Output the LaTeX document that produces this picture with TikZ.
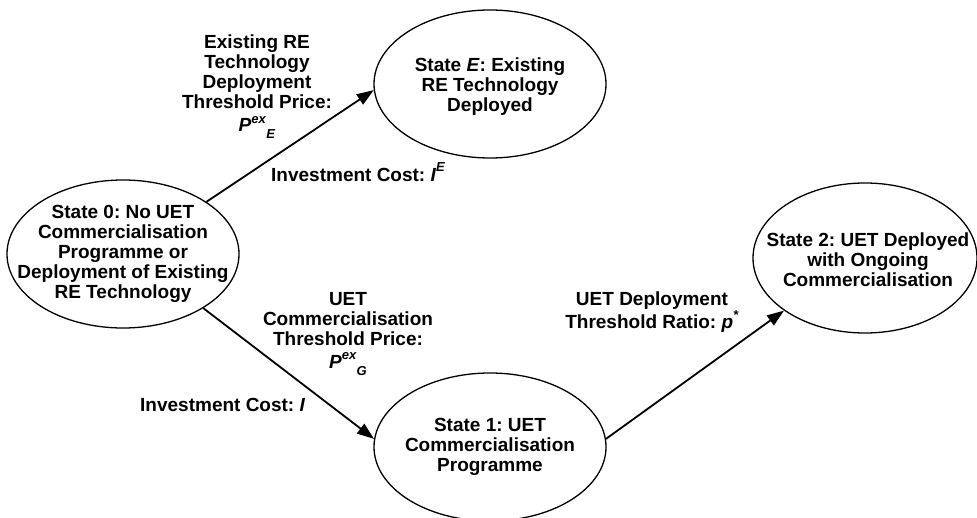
\documentclass[tikz,border=0pt]{standalone}
\usepackage{fontspec}
\setmainfont{Liberation Sans}
\usetikzlibrary{shapes.geometric,arrows.meta}
\frenchspacing
% small type for indices
\newcommand\idxfont{\fontsize{13}{14}\selectfont}
% symbol with a raised index followed by a lowered one
\newcommand\supsubsym[3]{\textit{#1}\raisebox{0.45em}{\idxfont\textit{#2}}\raisebox{-0.37em}{\idxfont\textit{#3}}}
% symbol with a raised index only
\newcommand\supsym[2]{\textit{#1}\raisebox{0.5em}{\idxfont\textit{#2}}}

\begin{document}
\begin{tikzpicture}[x=1pt,y=-1pt,
  stateell/.style={draw, ellipse, line width=1.3pt, inner sep=0pt,
                   minimum width=232pt, minimum height=148pt},
  statetext/.style={align=center, font=\fontsize{19}{20}\selectfont\bfseries, inner sep=0pt},
  lbl/.style={align=center, font=\fontsize{19}{20}\selectfont\bfseries, inner sep=0pt},
  flow/.style={line width=1.8pt, -{Triangle[length=17pt,width=12pt]}}]
\useasboundingbox (0,0) rectangle (977,518);

% states
\node[stateell] (s0) at (123,254) {};
\node[stateell] (sE) at (490,84) {};
\node[stateell] (s1) at (490,447) {};
\node[stateell, minimum width=224pt, minimum height=150pt] (s2) at (865,258) {};

\node[statetext] (s0t) at (s0) {State 0: No UET\\Commercialisation\\Programme or\\Deployment of Existing\\RE Technology};
\node[statetext] (sEt) at ([yshift=-3pt]sE) {State \textit{E}: Existing\\RE Technology\\Deployed};
\node[statetext] (s1t) at (s1) {State 1: UET\\Commercialisation\\Programme};
\node[statetext] (s2t) at ([xshift=3pt,yshift=-2pt]s2) {State 2: UET Deployed\\with Ongoing\\Commercialisation};

% transitions
\draw[flow] (s0.32.4) -- (sE.183.9);
\draw[flow] (s0.326.6) -- (s1.176.6);
\draw[flow] (s1.4.9) -- (s2.213);

% transition labels
\node[lbl] (lE) at (257,87) {Existing RE\\Technology\\Deployment\\Threshold Price:\\[3pt]\supsubsym{P}{ex}{E}};
\node[lbl, anchor=west] (cE) at (271,172) {Investment Cost: \supsym{I}{E}};
\node[lbl] (lG) at (348,334) {UET\\Commercialisation\\Threshold Price:\\[3pt]\supsubsym{P}{ex}{G}};
\node[lbl, anchor=west] (cG) at (140,405) {Investment Cost: \textit{I}};
\node[lbl] (l2) at (652,312) {UET Deployment\\Threshold Ratio: \supsym{p}{*}};
\end{tikzpicture}
\end{document}
